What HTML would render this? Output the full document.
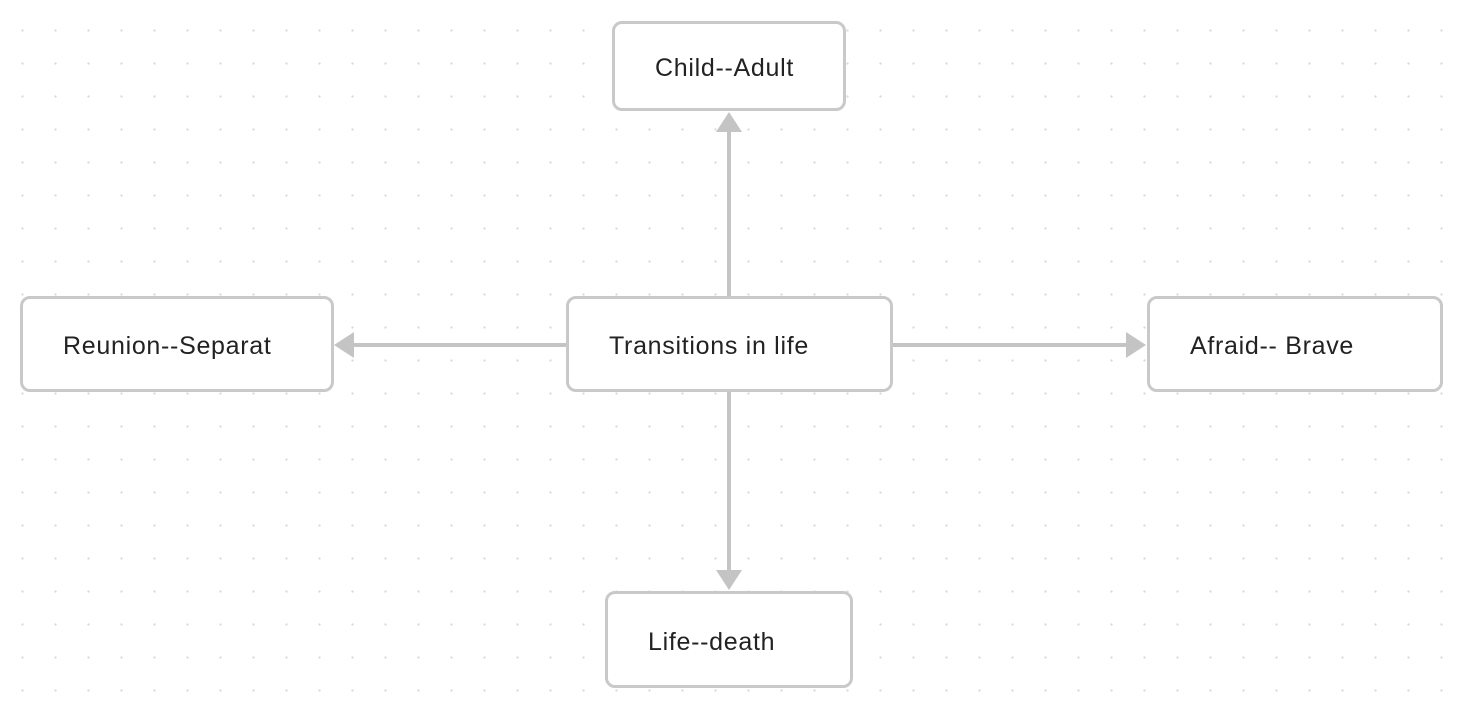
<!DOCTYPE html>
<html><head><style>
body{margin:0;width:1464px;height:710px;overflow:hidden;background:#fff;
background-image:radial-gradient(circle,#d8d8d8 1px,transparent 1.3px);background-size:33px 33px;background-position:6px 14px;
font-family:"Liberation Sans",sans-serif;}
.b{position:absolute;box-sizing:border-box;border:3px solid #c9c9c9;border-radius:10px;background:#fff;font-size:25px;letter-spacing:0.7px;color:#222;display:flex;align-items:center;padding-top:5px;}
svg{position:absolute;left:0;top:0}
</style></head><body>
<svg width="1464" height="710">
<g stroke="#c4c4c4" stroke-width="4" fill="#c4c4c4">
<line x1="729" y1="297" x2="729" y2="130"/><polygon points="716,132 742,132 729,112" stroke="none"/>
<line x1="566" y1="345" x2="352" y2="345"/><polygon points="354,332 354,358 334,345" stroke="none"/>
<line x1="892" y1="345" x2="1128" y2="345"/><polygon points="1126,332 1126,358 1146,345" stroke="none"/>
<line x1="729" y1="391" x2="729" y2="572"/><polygon points="716,570 742,570 729,590" stroke="none"/>
</g></svg>
<div class="b" style="left:612px;top:21px;width:234px;height:90px;padding-left:40px">Child--Adult</div>
<div class="b" style="left:20px;top:296px;width:314px;height:96px;padding-left:40px">Reunion--Separat</div>
<div class="b" style="left:566px;top:296px;width:327px;height:96px;padding-left:40px">Transitions in life</div>
<div class="b" style="left:1147px;top:296px;width:296px;height:96px;padding-left:40px">Afraid-- Brave</div>
<div class="b" style="left:605px;top:591px;width:248px;height:97px;padding-left:40px">Life--death</div>
</body></html>
